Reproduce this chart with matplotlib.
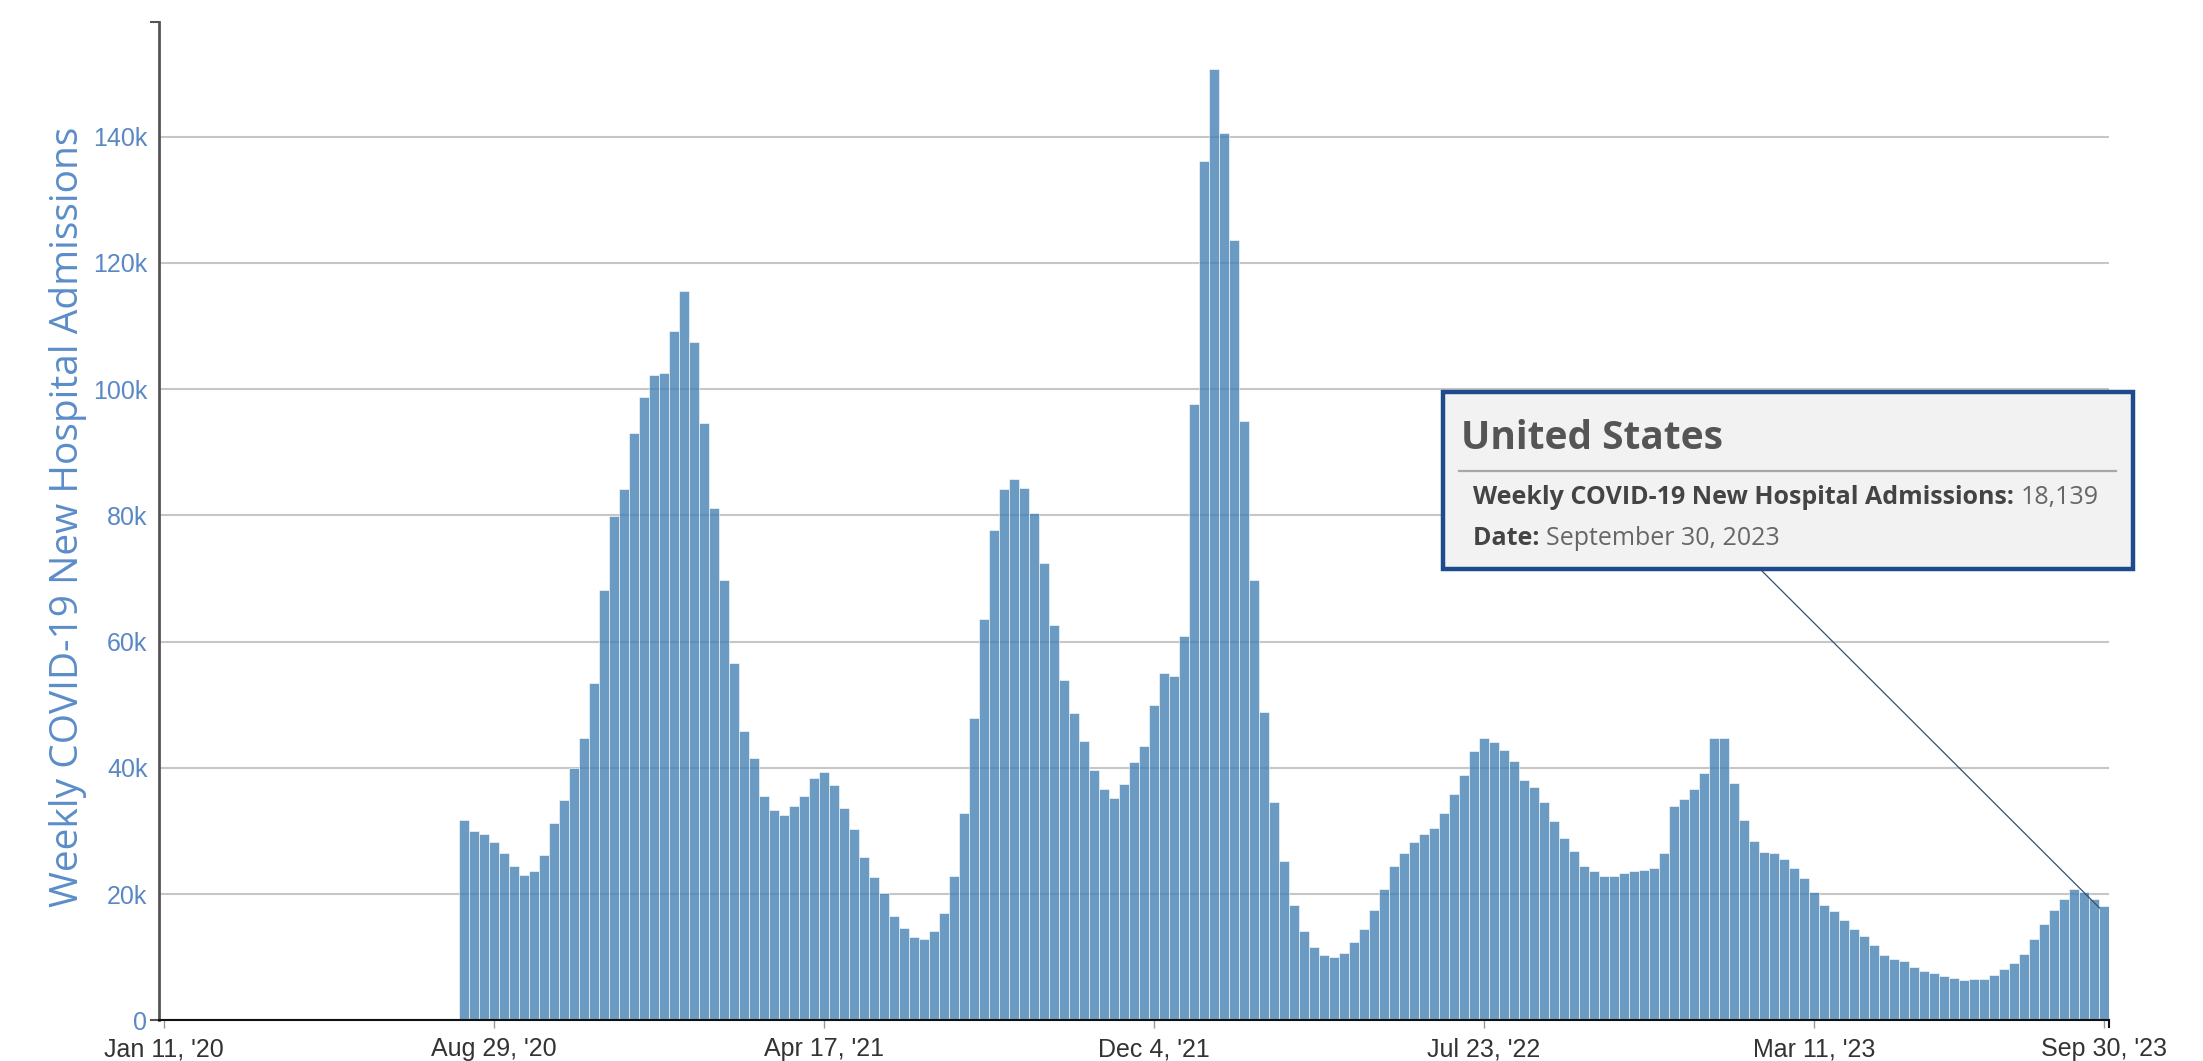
import matplotlib
matplotlib.use("Agg")
import matplotlib.pyplot as plt
import numpy as np
from matplotlib.patches import Rectangle, ConnectionPatch
from matplotlib.lines import Line2D

# ---------------- data ----------------
first_week = "2020-08-08"
n_weeks = 165
admissions_k = [
    31.7, 30.0, 29.5, 28.3, 26.5, 24.5, 23.0, 23.7, 26.2, 31.3, 34.9, 39.9, 44.7, 53.5, 68.1,
    79.9, 84.1, 93.1, 98.7, 102.2, 102.5, 109.2, 115.5, 107.5, 94.7, 81.1, 69.7, 56.6, 45.9,
    41.6, 35.5, 33.3, 32.5, 33.9, 35.6, 38.4, 39.4, 37.3, 33.7, 30.3, 25.9, 22.7, 20.1, 16.5,
    14.6, 13.2, 12.9, 14.1, 17.0, 22.8, 32.9, 47.9, 63.6, 77.7, 84.1, 85.8, 84.3, 80.3, 72.5,
    62.6, 53.9, 48.7, 44.3, 39.6, 36.7, 35.3, 37.5, 40.9, 43.4, 49.9, 55.0, 54.6, 60.9, 97.7,
    136.1, 150.7, 140.6, 123.6, 95.0, 69.8, 48.9, 34.6, 25.3, 18.3, 14.1, 11.7, 10.3, 10.0,
    10.7, 12.4, 14.5, 17.5, 20.8, 24.5,
    26.5, 28.3, 29.5, 30.4, 32.8, 35.8, 38.9, 42.6, 44.7, 44.1, 42.8, 41.1, 38.1, 36.9, 34.6,
    31.6, 28.9, 26.8, 24.4, 23.6, 22.9, 22.9, 23.4, 23.7, 23.8, 24.1, 26.5, 33.9, 35.0, 36.7,
    39.2, 44.7, 44.7, 37.6, 31.7, 28.4, 26.6, 26.5, 25.6, 24.1,
    22.5, 20.4, 18.3, 17.3, 15.9, 14.5, 13.3, 11.9, 10.3, 9.8,
    9.4, 8.5, 7.9, 7.5, 7.0, 6.7, 6.4, 6.5, 6.5, 7.2, 8.1, 9.1, 10.5, 12.9, 15.2, 17.5,
    19.2, 20.8, 20.3, 19.3, 18.139,
]
values = np.array(admissions_k) * 1000.0
dates = np.datetime64(first_week) + np.arange(n_weeks) * np.timedelta64(7, "D")

xtick_dates = ["2020-01-11", "2020-08-29", "2021-04-17", "2021-12-04",
               "2022-07-23", "2023-03-11", "2023-09-30"]
xtick_labels = ["Jan 11, '20", "Aug 29, '20", "Apr 17, '21", "Dec 4, '21",
                "Jul 23, '22", "Mar 11, '23", "Sep 30, '23"]
ytick_values = [0, 20000, 40000, 60000, 80000, 100000, 120000, 140000]
ytick_labels = ["0", "20k", "40k", "60k", "80k", "100k", "120k", "140k"]

tooltip_title = "United States"
tooltip_metric = "Weekly COVID-19 New Hospital Admissions:"
tooltip_value = "18,139"
tooltip_date_label = "Date:"
tooltip_date = "September 30, 2023"
y_title = "Weekly COVID-19 New Hospital Admissions"

# ---------------- figure ----------------
W, H = 2203, 1061
fig = plt.figure(figsize=(W / 100, H / 100), dpi=100)
fig.patch.set_facecolor("white")

ax_l, ax_r, ax_b, ax_t = 158.5, 2109.0, 1020.4, 21.6
ax = fig.add_axes([ax_l / W, 1 - ax_b / H, (ax_r - ax_l) / W, (ax_b - ax_t) / H])

ax.bar(dates, values, width=7.0, align="center",
       facecolor=(70 / 255, 130 / 255, 180 / 255, 0.8),
       edgecolor=(1, 1, 1, 0.75), linewidth=0.55, zorder=2)

ax.set_ylim(0, 158200)
ax.set_xlim(np.datetime64("2020-01-11") - np.timedelta64(84, "h"),
            np.datetime64("2023-09-30") + np.timedelta64(84, "h"))

ax.set_yticks(ytick_values)
ax.set_yticklabels(ytick_labels, family=["Liberation Sans", "DejaVu Sans"],
                   fontsize=18, color="#5a88c4")
ax.set_xticks([np.datetime64(d) for d in xtick_dates])
ax.set_xticklabels(xtick_labels, family=["Liberation Sans", "DejaVu Sans"],
                   fontsize=18, color="#333333")

ax.yaxis.grid(True, color="#c6c6c6", linewidth=1.5, zorder=0)
ax.xaxis.grid(False)
ax.set_axisbelow(True)

for s in ["top", "right"]:
    ax.spines[s].set_visible(False)
ax.spines["left"].set_color("#555555")
ax.spines["left"].set_linewidth(2.0)
ax.spines["bottom"].set_color("#111111")
ax.spines["bottom"].set_linewidth(1.5)

ax.tick_params(axis="y", length=0, pad=8)
ax.tick_params(axis="x", length=6, width=1, color="#999999", pad=6)

# small end ticks of the axes
ax.plot([0, -0.004], [1, 1], transform=ax.transAxes, color="#555555", lw=1.5, clip_on=False)
ax.plot([0, -0.004], [0, 0], transform=ax.transAxes, color="#555555", lw=1.5, clip_on=False)
ax.plot([1, 1], [0, -0.007], transform=ax.transAxes, color="#111111", lw=1.5, clip_on=False)

# y-axis title
fig.text(68 / W, 1 - 517 / H, y_title, rotation=90, ha="center", va="center",
         fontsize=28, color="#5b8dc9", family=["Open Sans", "DejaVu Sans"])

# ---------------- tooltip ----------------
def fx(x):
    return x / W

def fy(y):
    return 1 - y / H

box_l, box_r, box_t, box_b = 1443, 2133, 392, 569
fig.add_artist(Rectangle((fx(box_l), fy(box_b)), (box_r - box_l) / W, (box_b - box_t) / H,
                         transform=fig.transFigure, facecolor="#f2f2f2",
                         edgecolor="#1e4a8e", linewidth=3.2, zorder=10))

fig.text(fx(1461), fy(449), tooltip_title, fontsize=28, weight="bold", color="#555555",
         family=["Open Sans", "DejaVu Sans"], va="baseline", ha="left", zorder=11)
fig.add_artist(Line2D([fx(1459), fx(2116)], [fy(471), fy(471)], transform=fig.transFigure,
                      color="#a8a8a8", linewidth=1.6, zorder=11))

renderer = fig.canvas.get_renderer()
t1 = fig.text(fx(1473), fy(504), tooltip_metric + " ", fontsize=18, weight="bold",
              color="#444444", family=["Open Sans", "DejaVu Sans"], va="baseline",
              ha="left", zorder=11)
x1 = t1.get_window_extent(renderer).x1
fig.text(x1 / W, fy(504), tooltip_value, fontsize=18, color="#666666",
         family=["Open Sans", "DejaVu Sans"], va="baseline", ha="left", zorder=11)

t2 = fig.text(fx(1473), fy(545), tooltip_date_label + " ", fontsize=18, weight="bold",
              color="#444444", family=["Open Sans", "DejaVu Sans"], va="baseline",
              ha="left", zorder=11)
x2 = t2.get_window_extent(renderer).x1
fig.text(x2 / W, fy(545), tooltip_date, fontsize=18, color="#666666",
         family=["Open Sans", "DejaVu Sans"], va="baseline", ha="left", zorder=11)

con = ConnectionPatch(xyA=(fx(1760), fy(box_b)), coordsA=fig.transFigure,
                      xyB=(dates[-1] - np.timedelta64(3, "D"), values[-1] * 0.98),
                      coordsB=ax.transData, color="#34506e", linewidth=0.9, zorder=9)
fig.add_artist(con)

fig.savefig("out.png", dpi=100, facecolor="white")
